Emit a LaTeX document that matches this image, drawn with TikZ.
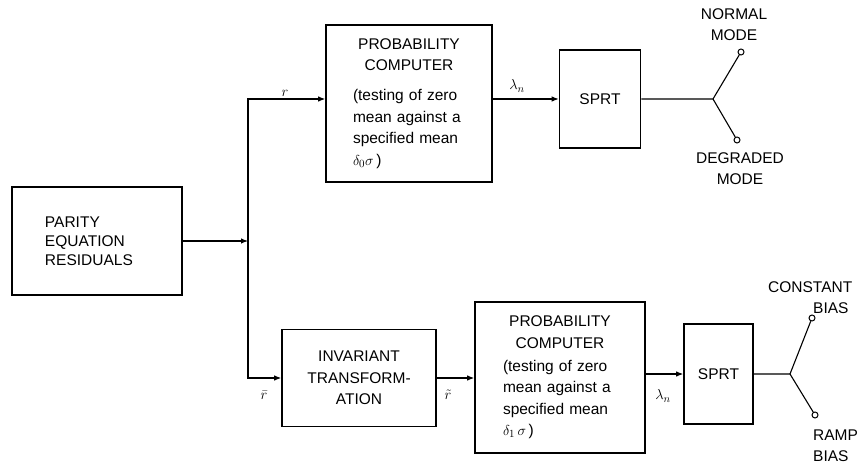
\documentclass[tikz,border=0pt]{standalone}
\usepackage{fontspec}
\setmainfont{Liberation Sans}
\usetikzlibrary{arrows.meta}
\begin{document}
\begin{tikzpicture}[x=1pt,y=-1pt,
  blk/.style={draw, line width=1.6pt, inner sep=0pt, font=\fontsize{15.5}{21.5}\selectfont},
  wire/.style={line width=1.1pt},
  arr/.style={wire, -{Latex[length=7pt,width=5.5pt]}},
  term/.style={circle, draw, line width=1pt, inner sep=0pt, minimum size=6pt, fill=white},
  lbl/.style={font=\fontsize{15.5}{21}\selectfont, inner sep=0pt},
  sig/.style={font=\fontsize{15}{15}\selectfont, inner sep=0pt}]
\useasboundingbox (0,0) rectangle (860,465);

% input block
\node[blk, minimum width=170pt, minimum height=108pt, text width=104pt, align=left,
      font=\fontsize{15.5}{19}\selectfont] (par) at (97,241) {PARITY\\EQUATION\\RESIDUALS};

% upper channel
\node[blk, minimum width=166pt, minimum height=157pt, text width=112pt, align=left] (pc1) at (409,103.5)
  {{\centering PROBABILITY\\COMPUTER\par}\vspace{8.5pt}(testing of zero\\mean against a\\specified mean\\$\delta_0\sigma$\,)};
\node[blk, minimum width=81pt, minimum height=98pt] (sp1) at (600,99) {SPRT};

% lower channel
\node[blk, minimum width=154pt, minimum height=97pt, align=center] (inv) at (359,378)
  {INVARIANT\\TRANSFORM-\\ATION};
\node[blk, minimum width=170pt, minimum height=151pt, text width=114pt, align=left] (pc2) at (560,377.5)
  {{\centering PROBABILITY\\COMPUTER\par}\vspace{1.5pt}(testing of zero\\mean against a\\specified mean\\$\delta_1\,\sigma$\,)};
\node[blk, minimum width=69pt, minimum height=100pt] (sp2) at (718.5,374) {SPRT};

% signal routing
\coordinate (split) at (248,241);
\draw[arr] (par) -- (split);
\draw[arr] (split) |- (pc1.west |- sp1.west);
\draw[arr] (split) |- (inv.west);
\draw[arr] (pc1.east |- sp1.west) -- (sp1.west);
\draw[arr] (inv.east) -- (pc2.west |- inv.east);
\draw[arr] (pc2.east |- sp2.west) -- (sp2.west);

% decision outputs, upper
\coordinate (j1) at (713,99);
\node[term] (up1) at (741,52) {};
\node[term] (dn1) at (737,140) {};
\draw[wire] (sp1.east) -- (j1) -- (up1);
\draw[wire] (j1) -- (dn1);
\node[lbl, align=center] (nm) at (734,25) {NORMAL\\MODE};
\node[lbl, align=center] (dg) at (740,169) {DEGRADED\\MODE};

% decision outputs, lower
\coordinate (j2) at (790,374);
\node[term] (up2) at (812,318) {};
\node[term] (dn2) at (815,415) {};
\draw[wire] (sp2.east) -- (j2) -- (up2);
\draw[wire] (j2) -- (dn2);
\node[lbl, align=left, anchor=west] (cb) at (768,298) {CONSTANT\\\hspace*{45pt}BIAS};
\node[lbl, align=left, anchor=west] (rb) at (813,446) {RAMP\\BIAS};

% signal labels
\node[sig] (lr) at (285,93) {$r$};
\node[sig] (ll1) at (517,86) {$\lambda_n$};
\node[sig] (lrb) at (264,395) {$\bar r$};
\node[sig] (lrt) at (448,395) {$\tilde r$};
\node[sig] (ll2) at (663,396) {$\lambda_n$};
\end{tikzpicture}
\end{document}
